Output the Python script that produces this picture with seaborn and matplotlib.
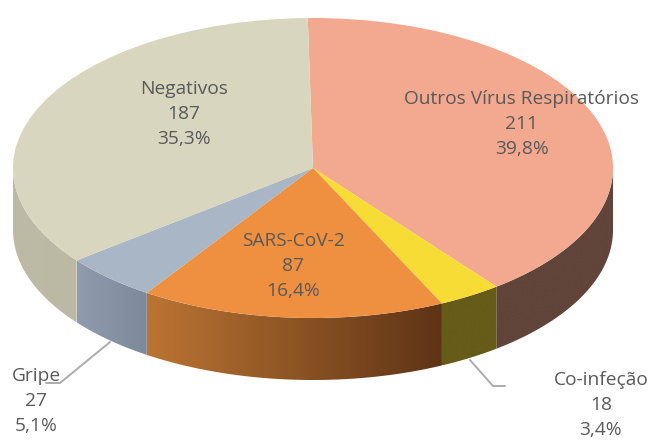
import numpy as np
import matplotlib
matplotlib.use("Agg")
import matplotlib.pyplot as plt
from matplotlib.colors import LinearSegmentedColormap
from matplotlib.patches import Polygon
import seaborn as sns

categories = ["Outros Vírus Respiratórios", "Co-infeção", "SARS-CoV-2", "Gripe", "Negativos"]
counts = [211, 18, 87, 27, 187]
percents = ["39,8%", "3,4%", "16,4%", "5,1%", "35,3%"]

top_colors = ["#F2A98F", "#F6DC35", "#EE9040", "#A9B6C6", "#D8D6BF"]
# side colours, left end and right end of each slice's rim
side_left = ["#61443A", "#665B18", "#BB7433", "#909CAE", "#BDBAA6"]
side_right = ["#61443A", "#665B18", "#5E3416", "#7D8899", "#BBB8A4"]
label_pos = [(522, 124), (601, 405), (293, 266), (36, 401), (184, 114)]

CX, CY, RX, RY = 313, 168, 300, 150
DEPTH = 62 / RY
START = 91


def px(x, y):
    # picture pixels to pie coordinates
    return (x - CX) / RX, (CY - y) / RY


sns.set_theme(style="white")
plt.rcParams["font.family"] = ["Open Sans", "DejaVu Sans"]

fig = plt.figure(figsize=(6.48, 4.4), dpi=100)
ax = fig.add_axes([0, 0, 1, 1])

wedges, _ = ax.pie(counts, colors=top_colors, startangle=START, counterclock=False,
                   radius=1, wedgeprops={"linewidth": 0, "zorder": 5})

# rim under the top face, a gradient clipped to each visible arc
ends = START - np.cumsum(counts) / np.sum(counts) * 360
starts = np.r_[START, ends[:-1]]
for a0, a1, c0, c1 in zip(starts, ends, side_left, side_right):
    lo, hi = max(a1, -180), min(a0, 0)
    if hi <= lo:
        continue
    t = np.radians(np.linspace(hi, lo, 80))
    xs, ys = np.cos(t), np.sin(t)
    outline = np.c_[np.r_[xs, xs[::-1]], np.r_[ys, ys[::-1] - DEPTH]]
    cmap = LinearSegmentedColormap.from_list("rim", [c0, c1])
    im = ax.imshow(np.linspace(0, 1, 128).reshape(1, -1), cmap=cmap, aspect="auto",
                   extent=(xs.min(), xs.max(), ys.min() - DEPTH, ys.max()),
                   interpolation="bilinear", zorder=2)
    im.set_clip_path(Polygon(outline, closed=True, transform=ax.transData))

ax.set_aspect("auto")
ax.set_xlim(px(0, 0)[0], px(648, 0)[0])
ax.set_ylim(px(0, 440)[1], px(0, 0)[1])

# leader lines
for pts in ([(110, 342), (60, 383), (46, 383)], [(470, 360), (493, 386), (505, 386)]):
    xy = np.array([px(*p) for p in pts])
    ax.plot(xy[:, 0], xy[:, 1], color="#ABABAB", lw=1.4, zorder=1, solid_joinstyle="miter")

for name, n, pct, pos in zip(categories, counts, percents, label_pos):
    x, y = px(*pos)
    ax.text(x, y, f"{name}\n{n}\n{pct}", ha="center", va="center", color="#595959",
            fontsize=13.8, linespacing=1.49, zorder=10)

ax.axis("off")
fig.savefig("out.png", dpi=100)
